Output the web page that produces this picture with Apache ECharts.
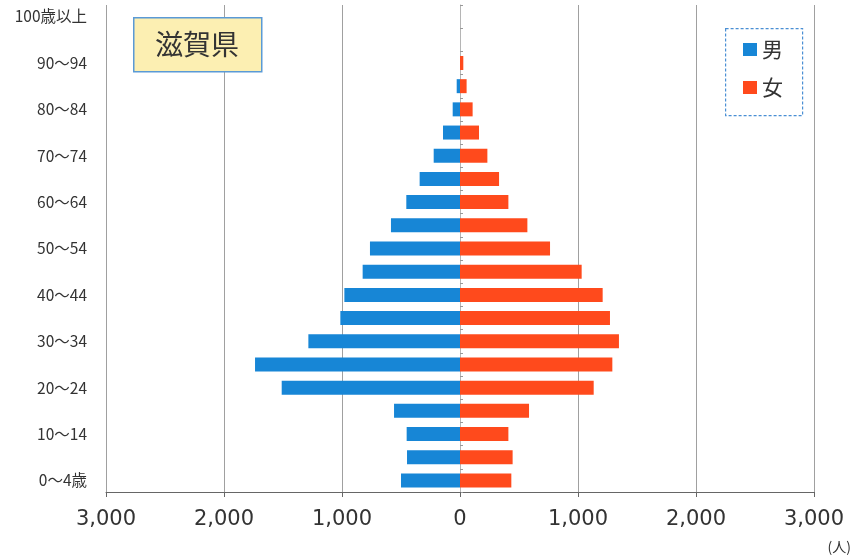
<!DOCTYPE html>
<html>
<head>
<meta charset="utf-8">
<script src="https://cdn.jsdelivr.net/npm/echarts@6/dist/echarts.min.js"></script>
<style>
  html, body { margin: 0; padding: 0; background: #fff; }
  #chart { width: 852px; height: 556px; }
</style>
</head>
<body>
<div id="chart"></div>
<script>
// Age groups, bottom to top
const ageGroups = [
  '0～4歳', '5～9', '10～14', '15～19', '20～24', '25～29', '30～34',
  '35～39', '40～44', '45～49', '50～54', '55～59', '60～64', '65～69',
  '70～74', '75～79', '80～84', '85～89', '90～94', '95～99', '100歳以上'
];

// Population (persons) per age group
const male = [500, 449, 452, 559, 1511, 1737, 1285, 1014, 980, 825, 763,
              585, 455, 342, 223, 144, 62, 28, 0, 0, 0];
const female = [435, 446, 410, 585, 1133, 1291, 1347, 1271, 1209, 1031, 763,
                571, 410, 331, 232, 161, 107, 56, 28, 0, 0];

const xTicks = [-3000, -2000, -1000, 0, 1000, 2000, 3000];

const MALE_COLOR = '#1786d6';
const FEMALE_COLOR = '#ff4a1c';
const JP_FONT = '"Noto Sans CJK JP", sans-serif';

const chart = echarts.init(document.getElementById('chart'), null, { renderer: 'canvas' });

chart.setOption({
  backgroundColor: '#ffffff',
  animation: false,
  grid: { left: 106, right: 38, top: 5, bottom: 64, containLabel: false },
  legend: {
    data: ['男', '女'],
    orient: 'vertical',
    left: 743,
    top: 39,
    itemWidth: 14,
    itemHeight: 13,
    itemGap: 17,
    icon: 'rect',
    padding: 0,
    textStyle: { fontFamily: JP_FONT, fontSize: 21, color: '#333', padding: [0, 0, 0, 0] }
  },
  xAxis: {
    type: 'value',
    min: xTicks[0],
    max: xTicks[xTicks.length - 1],
    interval: 1000,
    axisLine: { show: true, onZero: false, lineStyle: { color: '#666', width: 1 } },
    axisTick: { show: true, length: 5, lineStyle: { color: '#666' } },
    splitLine: { show: true, lineStyle: { color: '#a0a0a0', width: 1 } },
    axisLabel: {
      margin: 17,
      fontFamily: '"DejaVu Sans", sans-serif',
      fontSize: 21,
      color: '#333',
      formatter: v => Math.abs(v).toLocaleString('en-US')
    }
  },
  yAxis: [
    {
      type: 'category',
      data: ageGroups,
      position: 'left',
      axisLine: { show: false, onZero: false },
      axisTick: { show: false },
      splitLine: { show: false },
      axisLabel: {
        interval: 1,
        margin: 19,
        fontFamily: JP_FONT,
        fontSize: 15.5,
        color: '#333'
      }
    },
    {
      type: 'category',
      data: ageGroups,
      axisLine: { show: true, onZero: true, lineStyle: { color: '#b5b5b5', width: 1 } },
      axisTick: { show: true, length: 3, lineStyle: { color: '#999' } },
      axisLabel: { show: false },
      splitLine: { show: false }
    }
  ],
  series: [
    {
      name: '男',
      type: 'bar',
      yAxisIndex: 0,
      barWidth: 14,
      barGap: '-100%',
      itemStyle: { color: MALE_COLOR },
      data: male.map(v => -v)
    },
    {
      name: '女',
      type: 'bar',
      yAxisIndex: 0,
      barWidth: 14,
      barGap: '-100%',
      itemStyle: { color: FEMALE_COLOR },
      data: female
    }
  ],
  graphic: [
    {
      type: 'rect',
      left: 133, top: 17,
      shape: { width: 128, height: 54 },
      style: { fill: '#fcefb2', stroke: '#5a9ad6', lineWidth: 1.5 },
      z: 10
    },
    {
      type: 'text',
      x: 197, y: 44,
      style: {
        text: '滋賀県', font: '28px ' + JP_FONT, fill: '#333',
        textAlign: 'center', textVerticalAlign: 'middle'
      },
      z: 11
    },
    {
      type: 'rect',
      left: 725, top: 28,
      shape: { width: 77, height: 87 },
      style: { fill: '#ffffff', stroke: '#4a8fd4', lineWidth: 1.2, lineDash: [3, 2] },
      z: 1
    },
    {
      type: 'text',
      right: 1, top: 540,
      style: { text: '(人)', font: '14px ' + JP_FONT, fill: '#333' }
    }
  ]
});
</script>
</body>
</html>
